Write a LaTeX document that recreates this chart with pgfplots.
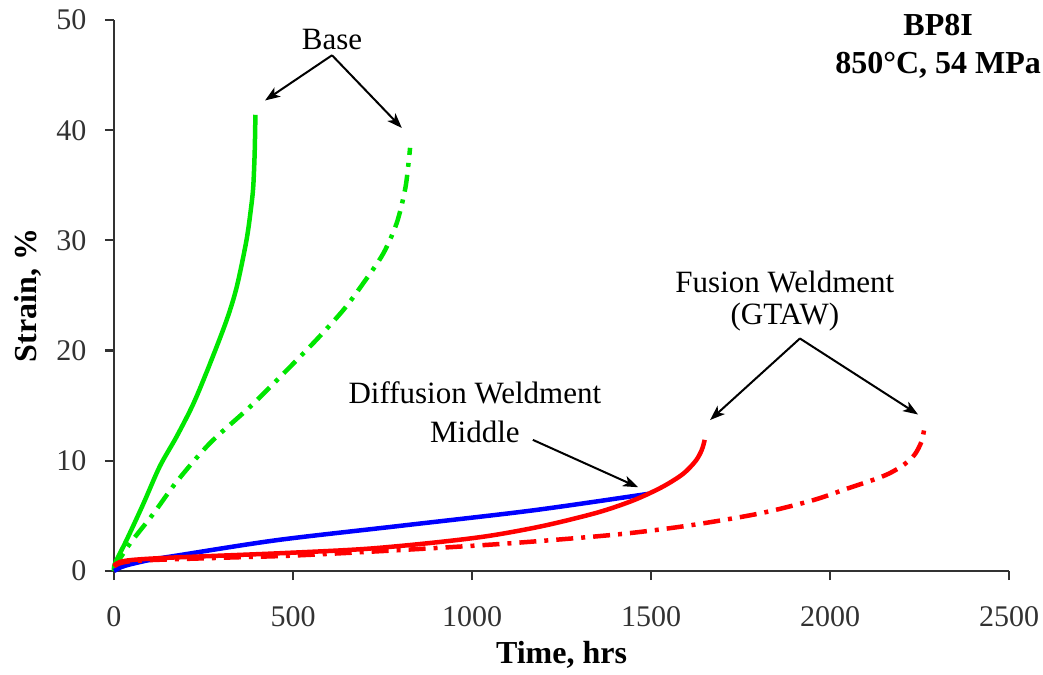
\documentclass[border=0pt]{standalone}
\usepackage{pgfplots}
\pgfplotsset{compat=1.18}
\usetikzlibrary{arrows.meta,calc}
\usepackage{fontspec}
\setmainfont{Liberation Serif}
\definecolor{gr}{RGB}{0,230,0}
\definecolor{ax}{RGB}{50,50,50}
\begin{document}
\begin{tikzpicture}
\begin{axis}[
  scale only axis, width=895pt, height=551pt,
  xmin=0, xmax=2500, ymin=0, ymax=50,
  axis lines=left, axis line style={-, ax, line width=2.2pt},
  tick align=outside, major tick length=9pt,
  tick style={ax, line width=2.2pt},
  xtick={0,500,...,2500}, ytick={0,10,...,50},
  /pgf/number format/assume math mode=true,
  /pgf/number format/1000 sep={},
  ticklabel style={font=\fontsize{30}{36}\selectfont, text=ax},
  xticklabel style={yshift=-23pt},
  yticklabel style={xshift=-15pt},
  clip=false,
]
\addplot[gr, line width=4.5pt, smooth] coordinates {
(0,0) (3,0.7) (35,2.8) (82,6.1) (128,9.5) (175,12.2) (222,15.2) (268,18.8) (315,22.8) (343,25.8) (370,30.0) (383,33.0) (389,34.9) (393,38.0) (395,41.4)};
\addplot[gr, line width=4.5pt, smooth, dash pattern=on 17pt off 8pt on 4pt off 8pt] coordinates {
(0,0.3) (45,2.5) (110,5.2) (175,8.1) (268,11.6) (380,14.9) (482,18.2) (566,21.0) (641,23.7) (696,26.1) (752,28.8) (790,31.6) (813,34.6) (822,36.8) (827,38.4)};
\addplot[blue, line width=4.5pt, smooth] coordinates {
(0,0) (20,0.35) (45,0.6) (100,1.0) (176,1.4) (455,2.8) (800,4.1) (1170,5.5) (1492,7.0)};
\addplot[red, line width=4.5pt, smooth] coordinates {
(0,0.5) (15,0.8) (50,1.0) (150,1.2) (455,1.6) (700,2.0) (900,2.6) (1050,3.2) (1200,4.1) (1350,5.3) (1450,6.4) (1530,7.6) (1589,8.8) (1625,10.0) (1642,11.0) (1650,11.9)};
\addplot[red, line width=4.5pt, smooth, dash pattern=on 17pt off 8pt on 4pt off 8pt] coordinates {
(0,0.4) (50,0.9) (300,1.2) (500,1.4) (800,1.9) (1100,2.5) (1400,3.3) (1600,4.1) (1800,5.2) (1950,6.4) (2050,7.5) (2148,8.6) (2200,9.5) (2235,10.5) (2255,11.7) (2264,13.0)};
% axis labels
\node[font=\bfseries\fontsize{32}{38}\selectfont] at ($(rel axis cs:0.5,0)+(0,-84pt)$) {Time, hrs};
\node[rotate=90, font=\bfseries\fontsize{32}{38}\selectfont] at ($(rel axis cs:0,0.5)+(-86pt,0)$) {Strain, \%};
% annotations
\tikzset{ann/.style={-{Stealth[length=15pt,width=11pt,inset=4pt]}, line width=2pt}}
\node[font=\fontsize{31}{36}\selectfont] at (axis cs:609,48.2) {Base};
\draw[ann] (axis cs:609,46.8) -- (axis cs:422,42.7);
\draw[ann] (axis cs:609,46.8) -- (axis cs:804,40.2);
\node[font=\fontsize{31}{36}\selectfont] at (axis cs:1874,26.2) {Fusion Weldment};
\node[font=\fontsize{31}{36}\selectfont] at (axis cs:1874,23.0) {(GTAW)};
\draw[ann] (axis cs:1916,21.1) -- (axis cs:1665,13.7);
\draw[ann] (axis cs:1916,21.1) -- (axis cs:2246,14.2);
\node[font=\fontsize{31}{36}\selectfont] at (axis cs:1008,16.2) {Diffusion Weldment};
\node[font=\fontsize{31}{36}\selectfont] at (axis cs:1008,12.6) {Middle};
\draw[ann] (axis cs:1170,11.9) -- (axis cs:1464,7.6);
\node[font=\bfseries\fontsize{32}{38}\selectfont] at (axis cs:2302,49.5) {BP8I};
\node[font=\bfseries\fontsize{32}{38}\selectfont] at (axis cs:2302,45.9) {850°C, 54 MPa};
\end{axis}
\pgfresetboundingbox
\path (-114pt,-103pt) rectangle (929pt,571pt);
\end{tikzpicture}
\end{document}
